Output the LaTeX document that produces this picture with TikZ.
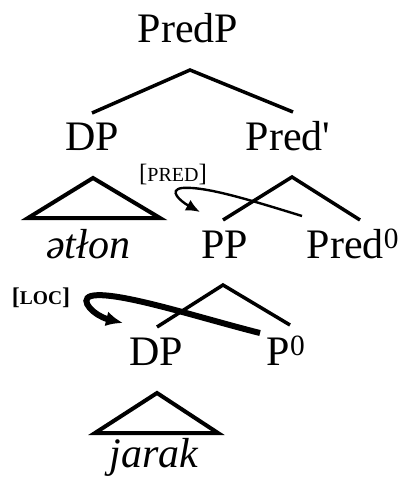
\documentclass[tikz,border=0pt]{standalone}
\usepackage{fontspec}
\setmainfont{Liberation Serif}[ItalicFont={Liberation Serif Italic},BoldFont={Liberation Serif Bold}]
\usetikzlibrary{arrows.meta}
\begin{document}
\begin{tikzpicture}[x=1pt,y=-1pt,
  lab/.style={anchor=base,inner sep=0pt,font=\fontsize{42}{42}\selectfont},
  feat/.style={anchor=base,inner sep=0pt},
  branch/.style={line width=3.5pt,line join=miter,line cap=butt},
  tri/.style={line width=4pt,line join=miter},
  movethin/.style={line width=2.4pt,-{Latex[length=14pt,width=12pt]}},
  movethick/.style={line width=6pt,-{Latex[length=17pt,width=15pt]}},
 ]
\useasboundingbox (0,0) rectangle (406,481);
% labels
\node[lab] (predp) at (188,43) {PredP};
\node[lab] (dp1) at (92,150) {DP};
\node[lab] (predbar) at (288,150) {Pred\textquotesingle};
\node[lab] (etlon) at (88,258) {\itshape ətłon};
\node[lab] (pp) at (225,258) {PP};
\node[lab] (pred0) at (353,258) {Pred\textsuperscript{0}};
\node[lab] (dp2) at (156,365) {DP};
\node[lab] (p0) at (286,365) {P\textsuperscript{0}};
\node[lab] (jarak) at (154,467) {\itshape jarak};
\node[feat] (predf) at (173,181) {\fontsize{25}{25}\selectfont[\fontsize{20}{20}\selectfont PRED\fontsize{25}{25}\selectfont]};
\node[feat] (locf) at (41,304) {\bfseries\fontsize{24}{24}\selectfont[\fontsize{19.5}{20}\selectfont LOC\fontsize{24}{24}\selectfont]};
% branch points
\coordinate (a1) at (190,70);
\coordinate (a1l) at (92,113);
\coordinate (a1r) at (293,112);
\coordinate (a2) at (292,177);
\coordinate (a2l) at (223,220);
\coordinate (a2r) at (360,220);
\coordinate (a3) at (223,285);
\coordinate (a3l) at (157,327);
\coordinate (a3r) at (290,325);
\coordinate (t1) at (93,178);
\coordinate (t1l) at (28,218);
\coordinate (t1r) at (160,218);
\coordinate (t2) at (157,393);
\coordinate (t2l) at (95,433);
\coordinate (t2r) at (218,433);
\draw[branch] (a1l) -- (a1) -- (a1r);
\draw[branch] (a2l) -- (a2) -- (a2r);
\draw[branch] (a3l) -- (a3) -- (a3r);
\draw[tri] (t1l) -- (t1) -- (t1r) -- cycle;
\draw[tri] (t2l) -- (t2) -- (t2r) -- cycle;
% movement arrows
\coordinate (m1s) at (302,216);
\coordinate (m1t) at (200,212);
\coordinate (m2s) at (260,333);
\coordinate (m2t) at (123,323);
\draw[movethin] (m1s) .. controls (250,200) and (205,186) .. (182,188)
   .. controls (168,190) and (180,201) .. (m1t);
\draw[movethick] (m2s) .. controls (200,318) and (115,290) .. (91,296)
   .. controls (78,300) and (95,316) .. (m2t);
\end{tikzpicture}
\end{document}
